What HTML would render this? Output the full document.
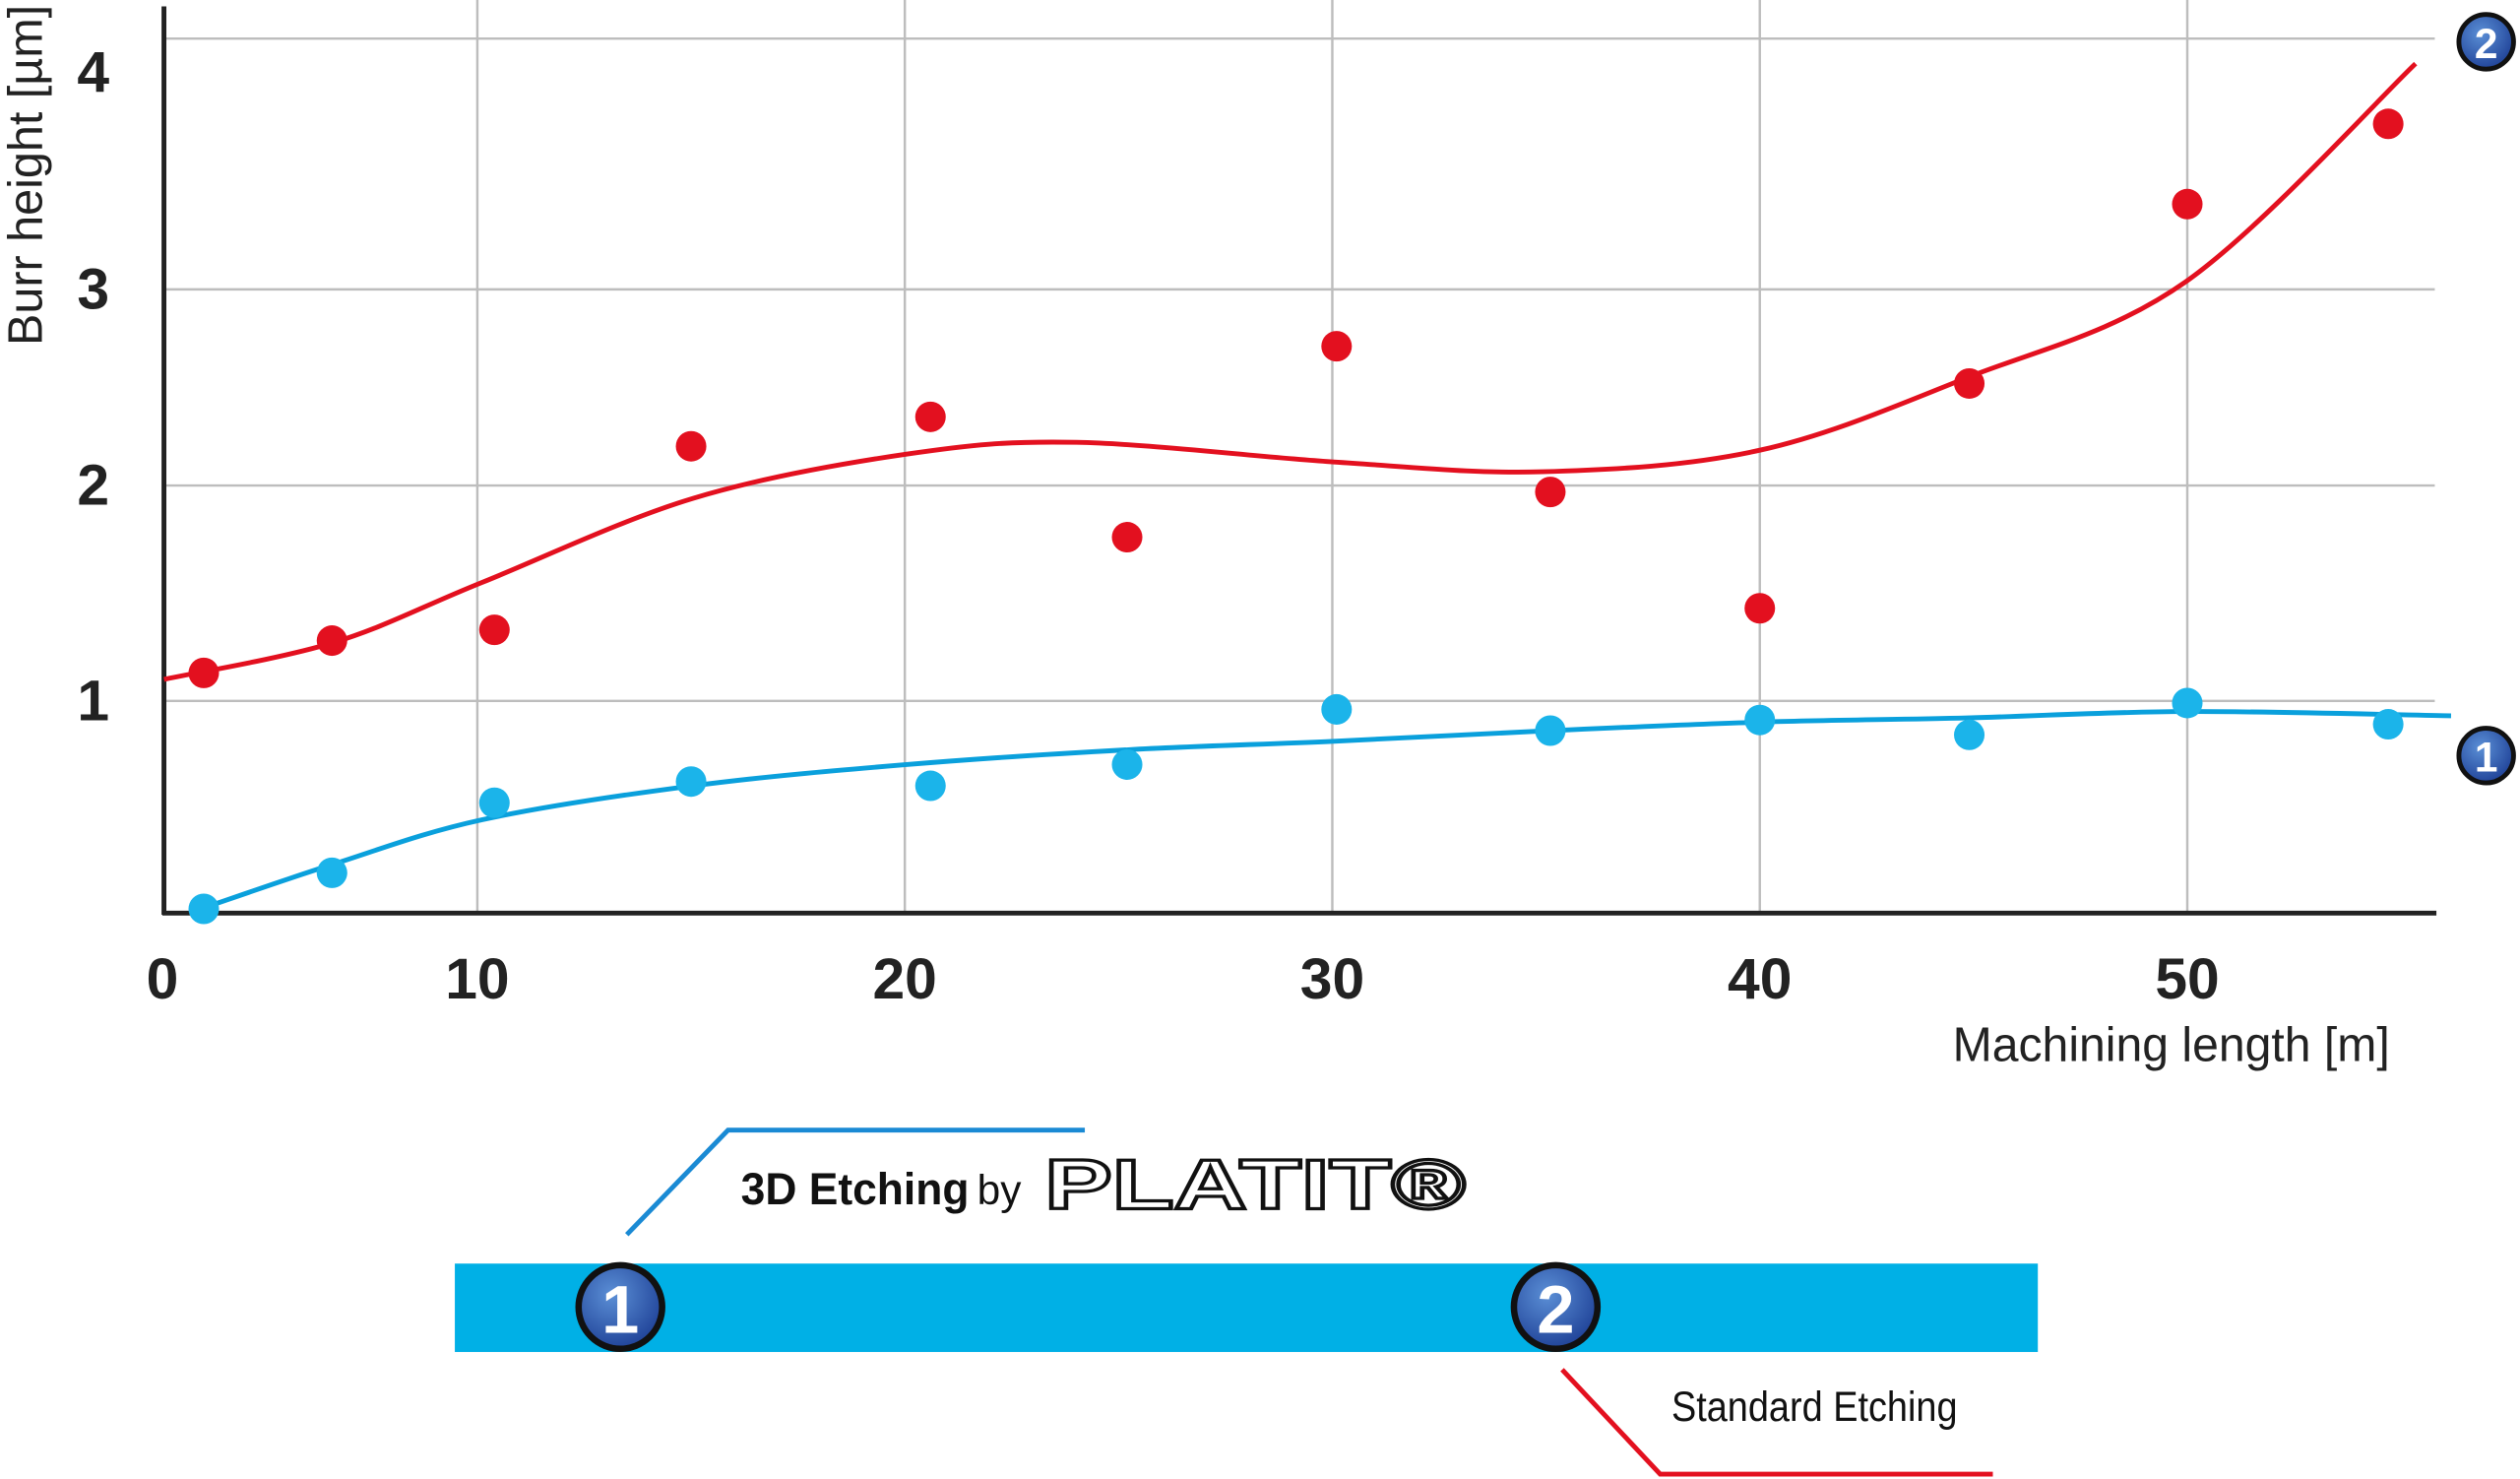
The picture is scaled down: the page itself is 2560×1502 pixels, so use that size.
<!DOCTYPE html>
<html><head><meta charset="utf-8"><style>
html,body{margin:0;padding:0;background:#fff;}
svg{display:block;}
text{font-family:"Liberation Sans",sans-serif;}
</style></head><body>
<svg id="chart" width="2560" height="1502" viewBox="0 0 1568 920" xmlns="http://www.w3.org/2000/svg">
<defs>
<radialGradient id="bg" cx="40%" cy="35%" r="70%"><stop offset="0" stop-color="#5b8fd6"/><stop offset="1" stop-color="#1d3f95"/></radialGradient>
</defs>
<g id="grid"></g>
<g id="axes"></g>
<g id="series"></g>
<text transform="translate(26,215) rotate(-90)" font-size="30" fill="#222" textLength="212" lengthAdjust="spacingAndGlyphs">Burr height [µm]</text>
<text x="1215" y="660" font-size="30" fill="#222" textLength="272" lengthAdjust="spacingAndGlyphs">Machining length [m]</text>
<g><circle cx="1547" cy="26" r="17" fill="url(#bg)" stroke="#111" stroke-width="3"/><text x="1547" y="36" font-size="26" font-weight="bold" fill="#fff" text-anchor="middle">2</text></g>
<g><circle cx="1547" cy="470" r="17" fill="url(#bg)" stroke="#111" stroke-width="3"/><text x="1547" y="480" font-size="26" font-weight="bold" fill="#fff" text-anchor="middle">1</text></g>
<polyline points="390,768 453,703 675,703" fill="none" stroke="#1a8ad4" stroke-width="3"/>
<polyline points="972,852 1033,917 1240,917" fill="none" stroke="#e3101f" stroke-width="3"/>
<rect x="283" y="786" width="985" height="55" fill="#00b0e6"/>
<g><circle cx="386" cy="813" r="26" fill="url(#bg)" stroke="#111" stroke-width="4"/><text x="386" y="829" font-size="42" font-weight="bold" fill="#fff" text-anchor="middle">1</text></g>
<g><circle cx="968" cy="813" r="26" fill="url(#bg)" stroke="#111" stroke-width="4"/><text x="968" y="829" font-size="42" font-weight="bold" fill="#fff" text-anchor="middle">2</text></g>
<text x="461" y="749" font-size="28" font-weight="bold" fill="#111" textLength="142" lengthAdjust="spacingAndGlyphs">3D Etching</text>
<text x="608" y="749" font-size="26" fill="#111">by</text>
<text x="650" y="752" font-size="44" font-weight="bold" fill="#fff" stroke="#111" stroke-width="2" textLength="262" lengthAdjust="spacingAndGlyphs">PLATIT®</text>
<text x="1040" y="884" font-size="26" fill="#111" textLength="178" lengthAdjust="spacingAndGlyphs">Standard Etching</text>
</svg>
<script>
const xTicks=[10,20,30,40,50];
const yTicks=[1,2,3,4];
const redX=[3.6,6.6,10.4,15,20.6,25.2,30.1,35.1,40,44.9,50,54.7];
const redY=[1.13,1.28,1.33,2.20,2.35,1.76,2.71,1.97,1.43,2.52,3.34,3.66];
const blueX=[3.6,6.6,10.4,15,20.6,25.2,30.1,35.1,40,44.9,50,54.7];
const blueY=[0.02,0.19,0.52,0.62,0.60,0.70,0.96,0.86,0.91,0.84,0.99,0.89];
const redFitX=[2.67,6.62,10.11,15.04,20.04,24.02,30.04,34.92,40,44.85,49.96,55.34];
const redFitY=[1.10,1.27,1.55,1.94,2.16,2.22,2.12,2.07,2.18,2.55,3.03,3.90];
const blueFitX=[3.53,6.62,10.11,15.04,20.04,25.23,30.04,35.11,40,44.85,49.96,56.17];
const blueFitY=[0.02,0.23,0.44,0.60,0.70,0.77,0.81,0.86,0.90,0.92,0.95,0.93];

const NS="http://www.w3.org/2000/svg";
function xs(v){return 31+26.6*v;}
const yk=[0,1,2,3,4], yp=[568,436,302,180,24];
function ys(v){
  if(v<=0)return 568-(0-v)*-132;
  for(let i=0;i<4;i++){if(v<=yk[i+1]||i==3){return yp[i]+(v-yk[i])*(yp[i+1]-yp[i]);}}
}
function mk(tag,attrs,parent){const e=document.createElementNS(NS,tag);for(const k in attrs)e.setAttribute(k,attrs[k]);parent.appendChild(e);return e;}
const grid=document.getElementById('grid'),axes=document.getElementById('axes'),ser=document.getElementById('series');
xTicks.forEach(t=>{
  const l=mk('line',{x1:xs(t),x2:xs(t),y1:0,y2:568,stroke:'#bdbdbd','stroke-width':1.5},grid);
  
  
  const tx=mk('text',{x:xs(t),y:621,'font-size':36,'font-weight':'bold','text-anchor':'middle',fill:'#222'},axes);
  tx.textContent=t;
  
  
});
const z=mk('text',{x:101,y:621,'font-size':36,'font-weight':'bold','text-anchor':'middle',fill:'#222'},axes);
z.textContent='0';


yTicks.forEach(t=>{
  const l=mk('line',{x1:102,x2:1515,y1:ys(t),y2:ys(t),stroke:'#bdbdbd','stroke-width':1.5},grid);
  
  
  const ly=t==4?ys(t)+33:ys(t)+12;
  const tx=mk('text',{x:58,y:ly,'font-size':36,'font-weight':'bold','text-anchor':'middle',fill:'#222'},axes);
  tx.textContent=t;
  
  
});
const ya=mk('line',{x1:102,x2:102,y1:4,y2:569,stroke:'#222','stroke-width':3},axes);


const xa=mk('line',{x1:101,x2:1516,y1:568,y2:568,stroke:'#222','stroke-width':3},axes);


function smooth(X,Y){
  const p=X.map((x,i)=>[xs(x),ys(Y[i])]);
  let d='M'+p[0][0]+','+p[0][1];
  for(let i=0;i<p.length-1;i++){
    const p0=p[Math.max(0,i-1)],p1=p[i],p2=p[i+1],p3=p[Math.min(p.length-1,i+2)];
    const c1=[p1[0]+(p2[0]-p0[0])/6,p1[1]+(p2[1]-p0[1])/6],c2=[p2[0]-(p3[0]-p1[0])/6,p2[1]-(p3[1]-p1[1])/6];
    d+=' C'+c1+' '+c2+' '+p2;
  }
  return d;
}
const rf=mk('path',{d:smooth(redFitX,redFitY),fill:'none',stroke:'#e3101f','stroke-width':3},ser);


const bf=mk('path',{d:smooth(blueFitX,blueFitY),fill:'none',stroke:'#0aa0dc','stroke-width':3},ser);


redX.forEach((x,i)=>{
  const c=mk('circle',{cx:xs(x),cy:ys(redY[i]),r:9.5,fill:'#e3101f'},ser);
  
  
});
blueX.forEach((x,i)=>{
  const c=mk('circle',{cx:xs(x),cy:ys(blueY[i]),r:9.5,fill:'#1bb4ea'},ser);
  
  
});
</script>
</body></html>
